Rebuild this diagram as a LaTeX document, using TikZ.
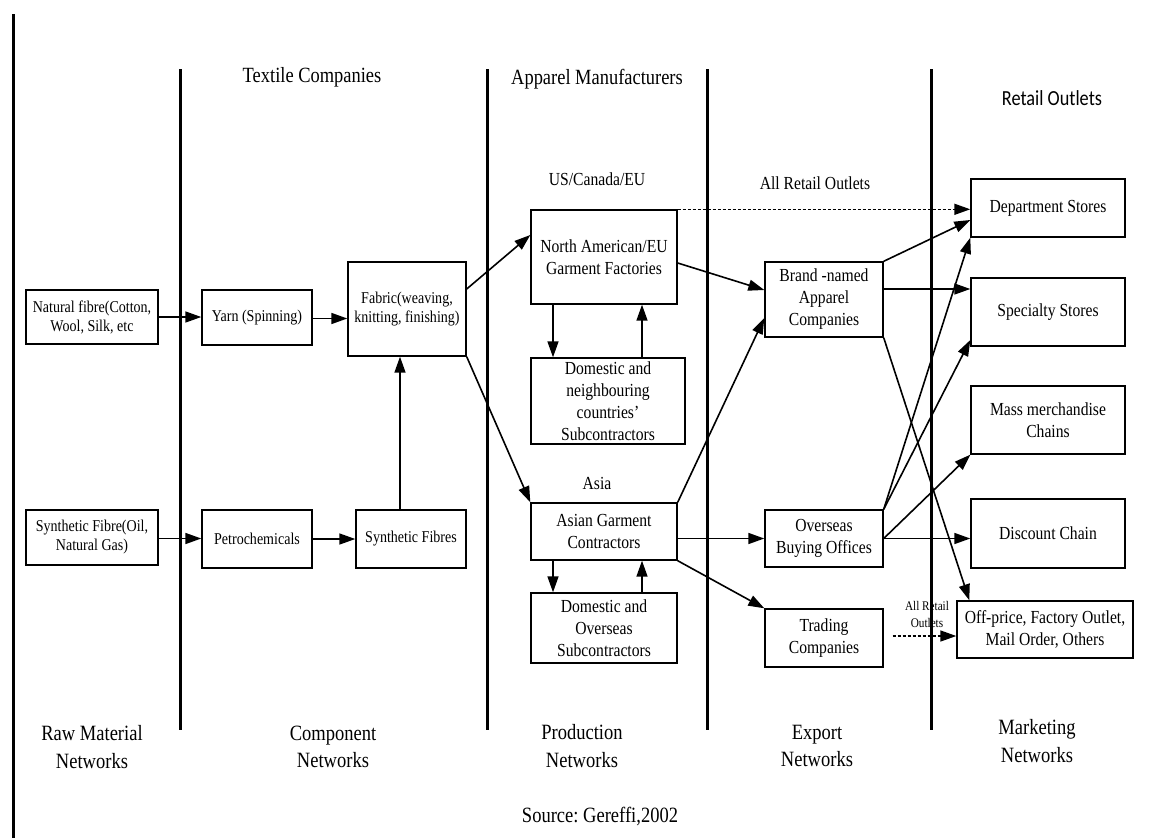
\documentclass[tikz,border=0pt]{standalone}
\usepackage{fontspec}
\setmainfont{Liberation Serif}[FakeStretch=0.85]
\newfontfamily\retailfont{Carlito}[FakeStretch=0.85]
\usetikzlibrary{arrows.meta}
\frenchspacing

% font sizes used across the chart
\newcommand\fLeft{\fontsize{16.5}{19}\selectfont}
\newcommand\fMid{\fontsize{18.4}{22}\selectfont}
\newcommand\fHead{\fontsize{21.7}{26}\selectfont}
\newcommand\fBot{\fontsize{21.8}{27.5}\selectfont}
\newcommand\fSmall{\fontsize{13.2}{17}\selectfont}

\begin{document}
\begin{tikzpicture}[x=1pt,y=-1pt,
  box/.style={draw, line width=1.4pt, inner sep=0pt, align=center},
  lbox/.style={box, font=\fLeft},
  mbox/.style={box, font=\fMid},
  label/.style={inner sep=0pt, align=center},
  arr/.style={line width=1.6pt, -{Triangle[length=16pt,width=11pt]}},
  dotarr/.style={arr, dash pattern=on 3pt off 2pt},
  divider/.style={line width=3pt}]

\fill[white] (0,0) rectangle (1152,838);
\useasboundingbox (0,0) rectangle (1152,838);

% stage dividers
\draw[divider] (13,14) -- (13,838);
\foreach \xx in {180,487,707,931}
  \draw[divider] (\xx,69) -- (\xx,730);

% column headings
\node[label, font=\fHead] (hTextile) at (312,77) {Textile Companies};
\node[label, font=\fHead] (hApparel) at (597,79) {Apparel Manufacturers};
\node[label, font=\retailfont\fontsize{21.5}{24}\selectfont] (hRetail) at (1052,98) {Retail Outlets};

% raw material and component networks
\node[lbox, minimum width=132pt, minimum height=54pt] (nat) at (92,317) {Natural fibre(Cotton,\\Wool, Silk, etc};
\node[lbox, minimum width=110pt, minimum height=55pt] (yarn) at (257,317.5) {Yarn (Spinning)};
\node[lbox, minimum width=118pt, minimum height=94pt] (fabric) at (407,309) {Fabric(weaving,\\knitting, finishing)};
\node[lbox, minimum width=132pt, minimum height=55pt] (synf) at (92,537.5) {Synthetic Fibre(Oil,\\Natural Gas)};
\node[lbox, minimum width=110pt, minimum height=58pt] (petro) at (257,539) {Petrochemicals};
\node[lbox, minimum width=110pt, minimum height=58pt] (synfib) at (411,539) {Synthetic Fibres};

% production networks
\node[label, font=\fMid] (us) at (597,179) {US/Canada/EU};
\node[mbox, minimum width=146pt, minimum height=94pt] (na) at (604,257) {North American/EU\\Garment Factories};
\node[mbox, minimum width=154pt, minimum height=86pt] (domn) at (608,401) {Domestic and\\neighbouring\\countries’\\Subcontractors};
\node[label, font=\fMid] (asia) at (597,483) {Asia};
\node[mbox, minimum width=146pt, minimum height=57pt] (asian) at (604,531.5) {Asian Garment\\Contractors};
\node[mbox, minimum width=146pt, minimum height=70pt] (domo) at (604,628) {Domestic and\\Overseas\\Subcontractors};

% export networks
\node[label, font=\fMid] (allro) at (815,183) {All Retail Outlets};
\node[mbox, minimum width=118pt, minimum height=75pt] (brand) at (824,299.5) {Brand -named\\Apparel\\Companies};
\node[mbox, minimum width=118pt, minimum height=57pt] (overseas) at (824,538.5) {Overseas\\Buying Offices};
\node[mbox, minimum width=118pt, minimum height=58pt] (trading) at (824,638) {Trading\\Companies};

% marketing networks
\node[mbox, minimum width=154pt, minimum height=58pt] (dept) at (1048,208) {Department Stores};
\node[mbox, minimum width=154pt, minimum height=68pt] (spec) at (1048,312) {Specialty Stores};
\node[mbox, minimum width=154pt, minimum height=68pt] (mass) at (1048,420) {Mass merchandise\\Chains};
\node[mbox, minimum width=154pt, minimum height=69pt] (disc) at (1048,533.5) {Discount Chain};
\node[mbox, minimum width=176pt, minimum height=57pt] (offp) at (1045,629.5) {Off-price, Factory Outlet,\\Mail Order, Others};
\node[label, font=\fSmall] (allrosmall) at (927,614) {All Retail\\Outlets};

% bottom row of network names
\node[label, font=\fBot] (nRaw) at (92,747) {Raw Material\\Networks};
\node[label, font=\fBot] (nComp) at (333,747) {Component\\Networks};
\node[label, font=\fBot] (nProd) at (582,746) {Production\\Networks};
\node[label, font=\fBot] (nExp) at (817,746) {Export\\Networks};
\node[label, font=\fBot] (nMkt) at (1037,741) {Marketing\\Networks};
\node[label, font=\fBot] (src) at (600,816) {Source: Gereffi,2002};

% raw material -> component flows
\draw[arr] (nat.east) -- (nat.east -| yarn.west);
\draw[arr] ([yshift=-1pt]yarn.east) -- ([yshift=-1pt]yarn.east -| fabric.west);
\draw[arr] ([yshift=-1pt]synf.east) -- ([yshift=-1pt]synf.east -| petro.west);
\draw[arr] (petro.east) -- (synfib.west);
\draw[arr] ([xshift=-7pt]synfib.north -| fabric.south) -- ([xshift=-7pt]fabric.south);

% component -> production flows
\draw[arr] ([yshift=20pt]fabric.east) -- ([yshift=22pt]na.west);
\draw[arr] (fabric.south east) -- (asian.north west);

% factories and their subcontractors
\draw[arr] ([xshift=-51pt]na.south) -- ([xshift=-51pt]na.south |- domn.north);
\draw[arr] ([xshift=38pt]na.south |- domn.north) -- ([xshift=38pt]na.south);
\draw[arr] ([xshift=-51pt]asian.south) -- ([xshift=-51pt]asian.south |- domo.north);
\draw[arr] ([xshift=38pt]asian.south |- domo.north) -- ([xshift=38pt]asian.south);

% production -> export flows
\draw[arr] ([yshift=-6pt]na.east) -- ([yshift=9.5pt]brand.west);
\draw[dotarr] (na.north east) -- (na.north east -| dept.west);
\draw[arr] (asian.north east) -- ([yshift=-18.5pt]brand.west);
\draw[arr] (asian.east |- overseas.west) -- (overseas.west);
\draw[arr] (asian.south east) -- (trading.north west);

% export -> marketing flows
\draw[arr] (brand.north east) -- ([yshift=-12pt]dept.west);
\draw[arr] ([yshift=10.5pt]brand.east) -- ([yshift=10.5pt]brand.east -| spec.west);
\draw[arr] (brand.south east) -- ([xshift=13pt]offp.north west);
\draw[arr] (overseas.north east) -- (dept.south west);
\draw[arr] (overseas.north east) -- ([yshift=-28pt]spec.west);
\draw[arr] (overseas.east) -- (mass.south west);
\draw[arr] (overseas.east) -- (overseas.east -| disc.west);
\draw[dotarr] ([xshift=9pt,yshift=2pt]trading.east) -- ([yshift=2pt]trading.east -| offp.west);

\end{tikzpicture}
\end{document}
